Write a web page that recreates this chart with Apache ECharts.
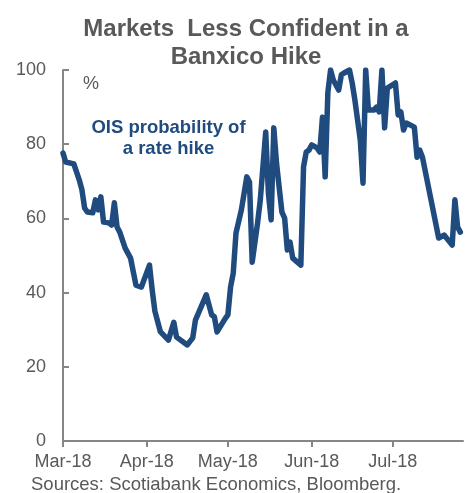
<!DOCTYPE html>
<html>
<head>
<meta charset="utf-8">
<script src="https://cdn.jsdelivr.net/npm/echarts@6/dist/echarts.min.js"></script>
<style>
html,body{margin:0;padding:0;background:#fff;}
#chart{width:466px;height:493px;}
</style>
</head>
<body>
<div id="chart"></div>
<script>
var titleText = "Markets  Less Confident in a\nBanxico Hike";
var unitLabel = "%";
var seriesLabel = "OIS probability of\na rate hike";
var sourceText = "Sources: Scotiabank Economics, Bloomberg.";
var tickMonths = ["2018-03-01", "2018-04-01", "2018-05-01", "2018-06-01", "2018-07-01"];
var tickLabels = ["Mar-18", "Apr-18", "May-18", "Jun-18", "Jul-18"];
var xStart = "2018-03-01";
var xEnd = "2018-07-27";

var dates = [
"2018-03-01","2018-03-02","2018-03-05","2018-03-07","2018-03-08","2018-03-09","2018-03-10",
"2018-03-12","2018-03-13","2018-03-14","2018-03-15","2018-03-16","2018-03-18","2018-03-19",
"2018-03-20","2018-03-21","2018-03-22","2018-03-24","2018-03-26","2018-03-28","2018-03-30",
"2018-04-02","2018-04-03","2018-04-04","2018-04-06","2018-04-09","2018-04-11","2018-04-12",
"2018-04-16","2018-04-18","2018-04-19","2018-04-23","2018-04-25","2018-04-26","2018-04-27",
"2018-04-30","2018-05-01","2018-05-02","2018-05-03","2018-05-04","2018-05-06","2018-05-08",
"2018-05-09","2018-05-10","2018-05-12","2018-05-13","2018-05-15","2018-05-16","2018-05-17",
"2018-05-18","2018-05-19","2018-05-21","2018-05-22","2018-05-23","2018-05-24","2018-05-25",
"2018-05-28","2018-05-29","2018-05-30","2018-05-31","2018-06-01","2018-06-03","2018-06-04",
"2018-06-05","2018-06-06","2018-06-07","2018-06-08","2018-06-09","2018-06-11","2018-06-12",
"2018-06-13","2018-06-15","2018-06-16","2018-06-17","2018-06-19","2018-06-20","2018-06-21",
"2018-06-22","2018-06-24","2018-06-25","2018-06-26","2018-06-27","2018-06-28","2018-06-29",
"2018-07-02","2018-07-03","2018-07-04","2018-07-05","2018-07-06","2018-07-09","2018-07-10",
"2018-07-11","2018-07-12","2018-07-18","2018-07-20","2018-07-23","2018-07-24","2018-07-25",
"2018-07-26"
];
var values = [
77.6,75.2,74.7,70.4,67.7,62.8,61.7,
61.5,65.0,62.3,65.8,59.0,58.8,58.2,
64.2,57.7,56.3,52.0,49.3,42.0,41.5,
47.4,40.7,35.0,29.5,27.2,32.0,28.0,
25.9,27.8,32.6,39.4,34.0,33.5,29.4,
33.0,34.0,41.5,45.3,56.0,62.3,71.2,
69.8,48.2,58.8,65.0,83.3,66.8,59.6,
84.4,74.9,61.7,60.1,51.5,53.6,49.3,
47.4,73.9,77.9,78.4,79.8,79.0,77.9,
87.3,71.2,94.0,100,97.3,94.6,98.7,
99.2,100,96.5,91.9,81.1,69.5,100,
89.2,89.2,90.0,88.7,100,84.4,95.1,
96.5,87.9,88.7,83.8,85.7,84.6,76.5,
78.4,76.5,54.7,55.5,52.8,65.0,57.7,
56.3
];

// day offset from the axis start (calendar days), used as the x value
function dayOf(s){
  var p = s.split("-"), q = xStart.split("-");
  return Math.round((Date.UTC(+p[0], +p[1]-1, +p[2]) - Date.UTC(+q[0], +q[1]-1, +q[2])) / 86400000);
}
var tickDays = tickMonths.map(dayOf);
var seriesData = dates.map(function(d,i){ return [dayOf(d), values[i]]; });

var grey = "#595959";
var axisGrey = "#868686";
var blue = "#1F4B7F";
var font = "Liberation Sans, Arial, sans-serif";

var chart = echarts.init(document.getElementById("chart"), null, {renderer: "canvas"});
chart.setOption({
  animation: false,
  backgroundColor: "#fff",
  title: {
    text: titleText,
    left: 241, top: 10, textAlign: "center",
    textStyle: {fontFamily: font, fontSize: 24, fontWeight: "bold", color: grey, lineHeight: 28}
  },
  grid: {left: 63, right: 3, top: 70, bottom: 52},
  xAxis: {
    type: "value",
    min: 0,
    max: dayOf(xEnd),
    splitLine: {show: false},
    axisLine: {show: true, onZero: false, lineStyle: {color: axisGrey, width: 2}},
    axisTick: {show: true, inside: false, length: 6, lineStyle: {color: axisGrey, width: 2}, customValues: tickDays},
    axisLabel: {
      customValues: tickDays,
      margin: 12,
      color: grey, fontFamily: font, fontSize: 18,
      formatter: function(v){ var i = tickDays.indexOf(v); return i >= 0 ? tickLabels[i] : ""; }
    }
  },
  yAxis: {
    type: "value",
    min: 0, max: 100, interval: 20,
    splitLine: {show: false},
    axisLine: {show: true, lineStyle: {color: axisGrey, width: 2}},
    axisTick: {show: true, inside: true, length: 6, lineStyle: {color: axisGrey, width: 2}},
    axisLabel: {margin: 17, color: grey, fontFamily: font, fontSize: 18}
  },
  graphic: [
    {type: "text", left: 83, top: 75, style: {text: unitLabel, fill: grey, font: "18px " + font}},
    {type: "text", x: 168.5, y: 117, style: {text: seriesLabel, fill: blue, font: "bold 18.5px " + font, align: "center", verticalAlign: "top", lineHeight: 21}},
    {type: "text", left: 31, top: 475, style: {text: sourceText, fill: grey, font: "18.5px " + font}}
  ],
  series: [{
    type: "line",
    data: seriesData,
    showSymbol: false,
    clip: true,
    lineStyle: {color: blue, width: 5.5, join: "round", cap: "round"},
    itemStyle: {color: blue}
  }]
});
</script>
</body>
</html>
